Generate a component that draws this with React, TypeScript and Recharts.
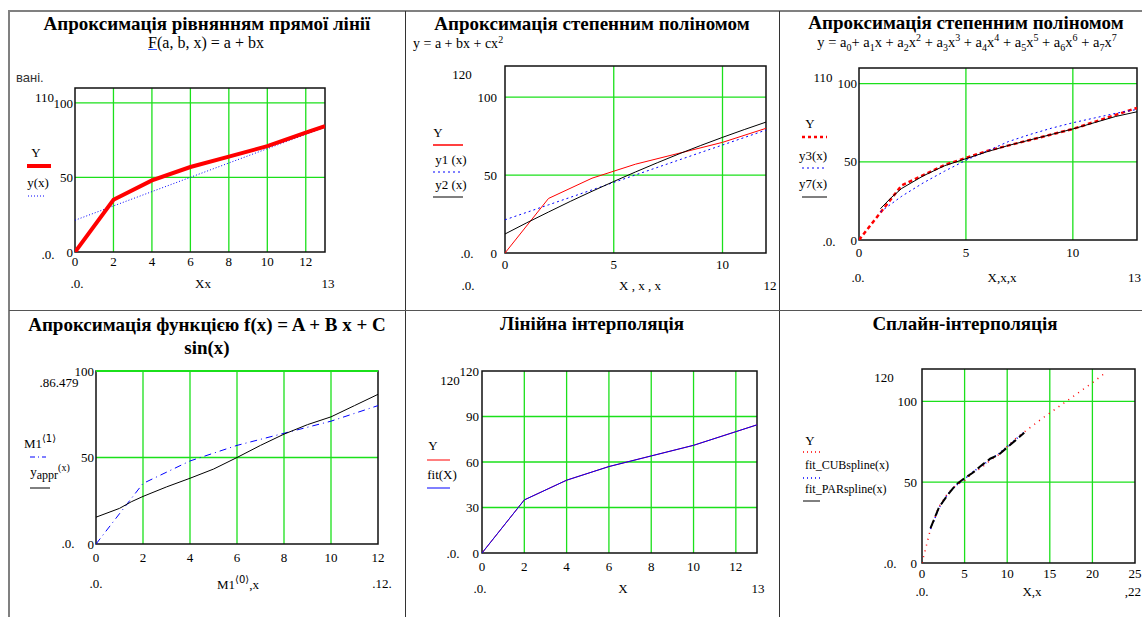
import React from 'react';
import {
  CartesianGrid,
  Line,
  LineChart,
  ReferenceArea,
  ReferenceLine,
  XAxis,
  YAxis,
} from 'recharts';

// measured data
const X = [0, 2, 4, 6, 8, 10, 12, 13];
const Y = [0, 35, 48, 57, 64, 71, 80, 84.5];

// y(x) = a + bx  (also y1 in panel 2)
const linX = [0, 2, 4, 6, 8, 10, 12, 13];
const linY = [21.3, 30.9, 40.5, 50.1, 59.7, 69.3, 78.9, 83.7];

// y2(x) = a + bx + cx^2
const quadX = [0, 1, 2, 3, 4, 5, 6, 7, 8, 9, 10, 11, 12];
const quadY = [12.2, 19.4, 26.3, 33.1, 39.6, 45.9, 52, 57.9, 63.6, 69, 74.2, 79.2, 84];

// y3(x), y7(x)
const y3X = [1, 2, 3, 4, 5, 6, 7, 8, 9, 10, 11, 12, 13];
const y3Y = [18, 28, 36.5, 44, 51, 57, 63, 67.5, 71.5, 75, 78, 81, 83.5];
const y7X = [1, 1.5, 2, 3, 4, 5, 6, 7, 8, 9, 10, 11, 12, 13];
const y7Y = [20, 27, 33, 41, 47.5, 52, 56.5, 60.5, 64, 67.5, 71, 75, 79, 82];

// y_appr(x) = A + Bx + C sin(x)
const apprX = [0, 1, 1.5, 2, 3, 4, 5, 6, 7, 8, 9, 10, 11, 12];
const apprY = [15.5, 20.6, 24.4, 27.5, 33, 38, 43.3, 50, 57, 63.5, 69, 73.5, 80, 86.5];

// splines
const splYX = [0, 1, 2, 3, 4, 5, 6, 7, 8, 9, 10, 11, 12, 14, 16, 18, 20, 21.6];
const splY = [0, 21, 35, 43, 48, 51, 56, 59, 63.5, 67, 72, 77, 81, 89, 96.5, 104, 111.5, 118];
const cubX = [1, 2, 3, 4, 5, 6, 7, 8, 9, 10, 11, 12];
const cubY = [21, 34, 42.5, 48, 52, 56.5, 60, 64, 67.5, 72, 76.5, 81];
const parX = [1, 2, 3, 4, 5, 6, 7, 8, 9, 10, 11, 12];
const parY = [21.5, 34.5, 42, 48.5, 52.5, 56, 60.5, 64.5, 67, 71.5, 76, 80.5];

const SERIF = '"Liberation Serif", "Times New Roman", serif';
const GREEN = '#1be01b';

const pts = (xs: number[], ys: number[]) => xs.map((x, i) => ({ x, y: ys[i] }));

type Series = { xs: number[]; ys: number[]; color: string; width?: number; dash?: string };

type PlotProps = {
  left: number;
  top: number;
  w: number;
  h: number;
  xMax: number;
  xTicks: number[];
  yMax: number;
  yTicks: number[];
  xGap: number;
  yGap: number;
  series: Series[];
  greenTop?: boolean;
};

const Plot = (p: PlotProps) => {
  const tick = { fill: '#000', fontSize: 13, fontFamily: SERIF };
  return (
    <div style={{ position: 'absolute', left: p.left - 50, top: p.top - 10 }}>
      <LineChart
        width={p.w + 60}
        height={p.h + 35}
        margin={{ top: 10, right: 10, bottom: 0, left: 0 }}>
        <CartesianGrid
          stroke={GREEN}
          strokeWidth={1.3}
          horizontalValues={p.yTicks.filter((v) => v > 0 && v < p.yMax)}
          verticalValues={p.xTicks.filter((v) => v > 0 && v < p.xMax)}
        />
        <XAxis
          type="number"
          dataKey="x"
          domain={[0, p.xMax]}
          ticks={p.xTicks}
          interval={0}
          allowDataOverflow
          axisLine={false}
          tickSize={0}
          tickMargin={p.xGap}
          tick={tick}
          height={25}
        />
        <YAxis
          type="number"
          domain={[0, p.yMax]}
          ticks={p.yTicks}
          interval={0}
          allowDataOverflow
          axisLine={false}
          tickSize={0}
          tickMargin={p.yGap}
          tick={tick}
          width={50}
        />
        <ReferenceArea
          x1={0}
          x2={p.xMax}
          y1={0}
          y2={p.yMax}
          fill="none"
          stroke="#111"
          strokeWidth={1.5}
        />
        {p.greenTop && <ReferenceLine y={p.yMax} stroke={GREEN} strokeWidth={2} />}
        {p.series.map((s, i) => (
          <Line
            key={i}
            data={pts(s.xs, s.ys)}
            dataKey="y"
            type="linear"
            stroke={s.color}
            strokeWidth={s.width ?? 1}
            strokeDasharray={s.dash}
            dot={false}
            activeDot={false}
            isAnimationActive={false}
          />
        ))}
      </LineChart>
    </div>
  );
};

type TProps = {
  x: number;
  y: number;
  a?: 'l' | 'c' | 'r';
  s?: number;
  b?: boolean;
  f?: string;
  c?: string;
  children: React.ReactNode;
};

const T = ({ x, y, a = 'c', s = 13, b, f, c, children }: TProps) => (
  <div
    style={{
      position: 'absolute',
      left: x,
      top: y,
      transform: `translate(${a === 'c' ? '-50%' : a === 'r' ? '-100%' : '0'}, -50%)`,
      fontSize: s,
      fontWeight: b ? 'bold' : 'normal',
      fontFamily: f ?? SERIF,
      color: c ?? '#000',
      whiteSpace: 'nowrap',
      lineHeight: 1,
    }}>
    {children}
  </div>
);

const Sw = (p: { x1: number; x2: number; y: number; color: string; width?: number; dash?: string }) => (
  <svg
    style={{ position: 'absolute', left: p.x1, top: p.y - 3, overflow: 'visible' }}
    width={p.x2 - p.x1}
    height={6}>
    <line
      x1={0}
      x2={p.x2 - p.x1}
      y1={3}
      y2={3}
      stroke={p.color}
      strokeWidth={p.width ?? 1}
      strokeDasharray={p.dash}
    />
  </svg>
);

const sub = { fontSize: 10 };
const ang = { fontSize: 10, fontFamily: '"DejaVu Sans", sans-serif' };

export default function App() {
  return (
    <div
      style={{
        position: 'fixed',
        left: 0,
        top: 0,
        width: 1142,
        height: 617,
        background: '#fff',
        overflow: 'hidden',
      }}>
      {/* table */}
      <div style={{ position: 'absolute', left: 8, top: 10, width: 1134, height: 0, borderTop: '2px solid #808080' }} />
      <div style={{ position: 'absolute', left: 8, top: 10, width: 0, height: 607, borderLeft: '2px solid #808080' }} />
      <div style={{ position: 'absolute', left: 405, top: 11, width: 0, height: 606, borderLeft: '1px solid #333' }} />
      <div style={{ position: 'absolute', left: 779, top: 11, width: 0, height: 606, borderLeft: '1px solid #333' }} />
      <div style={{ position: 'absolute', left: 9, top: 310, width: 1133, height: 0, borderTop: '1px solid #555' }} />

      {/* panel 1 */}
      <T x={207} y={23} s={19} b>Апроксимація рівнянням прямої лінії</T>
      <T x={206} y={43} s={16}>
        <span style={{ textDecoration: 'underline', textDecorationColor: '#3355ff' }}>F</span>(a, b, x) = a + bx
      </T>
      <T x={16} y={77} a="l" s={13} f='"Liberation Sans", Arial, sans-serif' c="#333">вані.</T>
      <T x={54} y={97} a="r">110</T>
      <T x={48} y={254}>.0.</T>
      <T x={36} y={152}>Y</T>
      <Sw x1={27} x2={51} y={166} color="#ff0000" width={4} />
      <T x={38} y={182}>y(x)</T>
      <Sw x1={28} x2={46} y={196} color="#0000ff" dash="1 2" />
      <T x={77} y={283}>.0.</T>
      <T x={203} y={283}>Xx</T>
      <T x={328} y={283}>13</T>
      <Plot
        left={75}
        top={88}
        w={250}
        h={164}
        xMax={13}
        xTicks={[0, 2, 4, 6, 8, 10, 12]}
        yMax={110}
        yTicks={[0, 50, 100]}
        xGap={5}
        yGap={2}
        series={[
          { xs: linX, ys: linY, color: '#0000ff', dash: '1 2' },
          { xs: X, ys: Y, color: '#ff0000', width: 4 },
        ]}
      />

      {/* panel 2 */}
      <T x={592} y={23} s={19} b>Апроксимація степенним поліномом</T>
      <T x={413} y={43} a="l" s={14}>
        y = a + bx + cx<sup style={sub}>2</sup>
      </T>
      <T x={462} y={74}>120</T>
      <T x={467} y={253}>.0.</T>
      <T x={438} y={132}>Y</T>
      <Sw x1={433} x2={463} y={145} color="#ff0000" width={1.5} />
      <T x={451} y={159}>y1 (x)</T>
      <Sw x1={433} x2={460} y={172} color="#0000ff" dash="2 3" />
      <T x={451} y={184}>y2 (x)</T>
      <Sw x1={433} x2={463} y={197} color="#000" />
      <T x={468} y={285}>.0.</T>
      <T x={640} y={285}>X , x , x</T>
      <T x={770} y={285}>12</T>
      <Plot
        left={505}
        top={66}
        w={261}
        h={187}
        xMax={12}
        xTicks={[0, 5, 10]}
        yMax={120}
        yTicks={[0, 50, 100]}
        xGap={7}
        yGap={8}
        series={[
          { xs: X, ys: Y, color: '#ff0000', width: 1 },
          { xs: linX, ys: linY, color: '#0000ff', dash: '2 3' },
          { xs: quadX, ys: quadY, color: '#000' },
        ]}
      />

      {/* panel 3 */}
      <T x={966} y={22} s={19} b>Апроксимація степенним поліномом</T>
      <T x={967} y={43} s={14.5}>
        y = a<sub style={sub}>0</sub>+ a<sub style={sub}>1</sub>x + a<sub style={sub}>2</sub>x
        <sup style={sub}>2</sup> + a<sub style={sub}>3</sub>x<sup style={sub}>3</sup> + a
        <sub style={sub}>4</sub>x<sup style={sub}>4</sup> + a<sub style={sub}>5</sub>x
        <sup style={sub}>5</sup> + a<sub style={sub}>6</sub>x<sup style={sub}>6</sup> + a
        <sub style={sub}>7</sub>x<sup style={sub}>7</sup>
      </T>
      <T x={823} y={77}>110</T>
      <T x={829} y={241}>.0.</T>
      <T x={810} y={123}>Y</T>
      <Sw x1={802} x2={827} y={137} color="#ff0000" width={2.5} dash="3 3" />
      <T x={813} y={155}>y3(x)</T>
      <Sw x1={802} x2={827} y={168} color="#0000ff" dash="2 3" />
      <T x={813} y={183}>y7(x)</T>
      <Sw x1={802} x2={827} y={197} color="#000" />
      <T x={858} y={277}>.0.</T>
      <T x={1002} y={277}>X,x,x</T>
      <T x={1141} y={277} a="r">13</T>
      <Plot
        left={859}
        top={68}
        w={278}
        h={172}
        xMax={13}
        xTicks={[0, 5, 10]}
        yMax={110}
        yTicks={[0, 50, 100]}
        xGap={8}
        yGap={2}
        series={[
          { xs: X, ys: Y, color: '#ff0000', width: 2.5, dash: '4 3' },
          { xs: y3X, ys: y3Y, color: '#0000ff', dash: '2 3' },
          { xs: y7X, ys: y7Y, color: '#000' },
        ]}
      />

      {/* panel 4 */}
      <T x={207} y={324} s={19} b>Апроксимація функцією f(x) = A + B x + C</T>
      <T x={207} y={347} s={19} b>sin(x)</T>
      <T x={59} y={382}>.86.479</T>
      <T x={68} y={543}>.0.</T>
      <T x={40} y={442}>
        M1<sup style={ang}>⟨1⟩</sup>
      </T>
      <Sw x1={30} x2={46} y={457} color="#0000ff" dash="5 3 1 3" />
      <T x={50} y={472}>
        y<sub style={{ fontSize: 12 }}>appr</sub>
        <sup style={sub}>(x)</sup>
      </T>
      <Sw x1={30} x2={50} y={488} color="#000" />
      <T x={96} y={583}>.0.</T>
      <T x={238} y={583}>
        M1<sup style={ang}>⟨0⟩</sup>,x
      </T>
      <T x={382} y={583}>.12.</T>
      <Plot
        left={96}
        top={371}
        w={282}
        h={173}
        xMax={12}
        xTicks={[0, 2, 4, 6, 8, 10, 12]}
        yMax={100}
        yTicks={[0, 50, 100]}
        xGap={9}
        yGap={2}
        greenTop
        series={[
          { xs: X, ys: Y, color: '#0000ff', dash: '7 4 1 4' },
          { xs: apprX, ys: apprY, color: '#000' },
        ]}
      />

      {/* panel 5 */}
      <T x={592} y={323} s={19} b>Лінійна інтерполяція</T>
      <T x={450} y={380}>120</T>
      <T x={453} y={553}>.0.</T>
      <T x={433} y={445}>Y</T>
      <Sw x1={427} x2={450} y={460} color="#ff0000" />
      <T x={442} y={474}>fit(X)</T>
      <Sw x1={427} x2={450} y={488} color="#0000ff" />
      <T x={480} y={588}>.0.</T>
      <T x={623} y={588}>X</T>
      <T x={758} y={588}>13</T>
      <Plot
        left={482}
        top={371}
        w={275}
        h={182}
        xMax={13}
        xTicks={[0, 2, 4, 6, 8, 10, 12]}
        yMax={120}
        yTicks={[0, 30, 60, 90, 120]}
        xGap={9}
        yGap={3}
        series={[
          { xs: X, ys: Y, color: '#ff0000' },
          { xs: X, ys: Y, color: '#0000ff' },
        ]}
      />

      {/* panel 6 */}
      <T x={965} y={323} s={19} b>Сплайн-інтерполяція</T>
      <T x={884} y={377}>120</T>
      <T x={890} y={563}>.0.</T>
      <T x={810} y={440}>Y</T>
      <Sw x1={803} x2={823} y={452} color="#ff0000" dash="1 3" width={1.5} />
      <T x={805} y={465} a="l" s={12}>fit_CUBspline(x)</T>
      <Sw x1={803} x2={823} y={478} color="#0000ff" dash="1 3" width={1.5} />
      <T x={805} y={489} a="l" s={12}>fit_PARspline(x)</T>
      <Sw x1={803} x2={820} y={501} color="#000" />
      <T x={922} y={591}>.0.</T>
      <T x={1032} y={591}>X,x</T>
      <T x={1141} y={591} a="r">,22</T>
      <Plot
        left={922}
        top={369}
        w={213}
        h={194}
        xMax={25}
        xTicks={[0, 5, 10, 15, 20, 25]}
        yMax={120}
        yTicks={[0, 50, 100]}
        xGap={6}
        yGap={5}
        series={[
          { xs: splYX, ys: splY, color: '#ff0000', width: 1.5, dash: '1 5' },
          { xs: cubX, ys: cubY, color: '#0000ff', width: 1.5, dash: '1 3' },
          { xs: parX, ys: parY, color: '#000', width: 2, dash: '9 4' },
        ]}
      />
    </div>
  );
}
